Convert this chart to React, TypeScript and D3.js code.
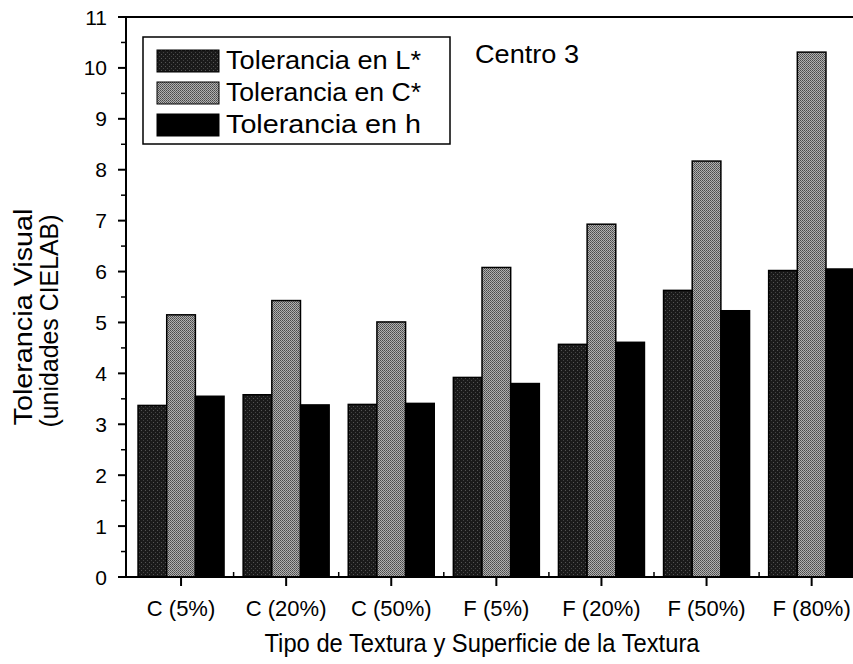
import React from 'react';
import * as d3 from 'd3';

const categories = ['C (5%)', 'C (20%)', 'C (50%)', 'F (5%)', 'F (20%)', 'F (50%)', 'F (80%)'];
const tolL = [3.37, 3.58, 3.39, 3.92, 4.57, 5.63, 6.02];
const tolC = [5.15, 5.43, 5.01, 6.08, 6.93, 8.17, 10.31];
const tolH = [3.55, 3.38, 3.41, 3.80, 4.61, 5.23, 6.05];
const seriesNames = ['Tolerancia en L*', 'Tolerancia en C*', 'Tolerancia en h'];
const yTicks = [0, 1, 2, 3, 4, 5, 6, 7, 8, 9, 10, 11];

const FONT = '"Liberation Sans", Arial, sans-serif';
const fills = ['url(#patL)', 'url(#patC)', '#000'];

const App: React.FC = () => {
  const width = 853;
  const height = 664;
  const axisX = 126;
  const top = 17;
  const bottom = 577;
  const step = 105.1;
  const start = 128.5;

  const x = d3.scaleBand<string>().domain(categories).range([start, start + step * categories.length]);
  const inner = d3.scaleBand<number>().domain([0, 1, 2]).range([0, 86]);
  const y = d3.scaleLinear().domain([0, 11]).range([bottom, top]);
  const series = [tolL, tolC, tolH];
  const off = (step - 86) / 2;

  return (
    <svg width={width} height={height} style={{ position: 'absolute', left: 0, top: 0, background: '#fff' }}>
      <defs>
        <pattern id="patL" width="4" height="4" patternUnits="userSpaceOnUse">
          <rect width="4" height="4" fill="#1a1a1a" />
          <rect x="1" y="2" width="1" height="1" fill="#555" />
          <rect x="3" y="0" width="1" height="1" fill="#444" />
        </pattern>
        <pattern id="patC" width="2" height="2" patternUnits="userSpaceOnUse">
          <rect width="2" height="2" fill="#b0b0b0" />
          <rect x="0" y="0" width="1" height="1" fill="#4a4a4a" />
          <rect x="1" y="1" width="1" height="1" fill="#606060" />
        </pattern>
      </defs>

      {/* bars */}
      {categories.map((c, i) => (
        <g key={c}>
          {series.map((s, k) => (
            <rect
              key={k}
              x={(x(c) as number) + off + (inner(k) as number)}
              y={y(s[i])}
              width={inner.bandwidth()}
              height={bottom - y(s[i])}
              fill={fills[k]}
              stroke="#000"
              strokeWidth={1.5}
            />
          ))}
        </g>
      ))}

      {/* frame */}
      <line x1={axisX} x2={width} y1={top} y2={top} stroke="#000" strokeWidth={2} />
      <line x1={axisX} x2={axisX} y1={top} y2={bottom} stroke="#000" strokeWidth={2} />
      <line x1={axisX} x2={width} y1={bottom} y2={bottom} stroke="#000" strokeWidth={2} />

      {/* y ticks */}
      {yTicks.map((t) => (
        <g key={t}>
          <line x1={axisX - 8} x2={axisX} y1={y(t)} y2={y(t)} stroke="#000" strokeWidth={2} />
          {t < 11 && <line x1={axisX - 5} x2={axisX} y1={y(t + 0.5)} y2={y(t + 0.5)} stroke="#000" strokeWidth={1.5} />}
          <text x={107} y={y(t)} dy="0.36em" textAnchor="end" fontFamily={FONT} fontSize={21}>
            {t}
          </text>
        </g>
      ))}

      {/* x ticks */}
      {categories.map((c, i) => {
        const cx = (x(c) as number) + x.bandwidth() / 2;
        return (
          <g key={c}>
            <line x1={cx} x2={cx} y1={bottom} y2={bottom + 9} stroke="#000" strokeWidth={2} />
            {i > 0 && <line x1={x(c)} x2={x(c)} y1={bottom} y2={bottom - 5} stroke="#000" strokeWidth={1.5} />}
            <text x={cx} y={616} textAnchor="middle" fontFamily={FONT} fontSize={22}>
              {c}
            </text>
          </g>
        );
      })}

      {/* axis titles */}
      <text x={482} y={652} textAnchor="middle" fontFamily={FONT} fontSize={25} textLength={435} lengthAdjust="spacingAndGlyphs">
        Tipo de Textura y Superficie de la Textura
      </text>
      <g transform="translate(32,317) rotate(-90)">
        <text x={0} y={0} textAnchor="middle" fontFamily={FONT} fontSize={25} textLength={217} lengthAdjust="spacingAndGlyphs">
          Tolerancia Visual
        </text>
        <text x={-4} y={26} textAnchor="middle" fontFamily={FONT} fontSize={25} textLength={213} lengthAdjust="spacingAndGlyphs">
          (unidades CIELAB)
        </text>
      </g>

      {/* legend */}
      <rect x={143} y={37} width={307} height={107} fill="#fff" stroke="#000" strokeWidth={1.5} />
      {seriesNames.map((n, k) => (
        <g key={n}>
          <rect x={157} y={50 + k * 32} width={62} height={22} fill={fills[k]} stroke="#000" strokeWidth={1} />
          <text x={226} y={69 + k * 32} fontFamily={FONT} fontSize={25} textLength={195} lengthAdjust="spacingAndGlyphs">
            {n}
          </text>
        </g>
      ))}
      <text x={475} y={63} fontFamily={FONT} fontSize={25} textLength={104} lengthAdjust="spacingAndGlyphs">
        Centro 3
      </text>
    </svg>
  );
};

export default App;
